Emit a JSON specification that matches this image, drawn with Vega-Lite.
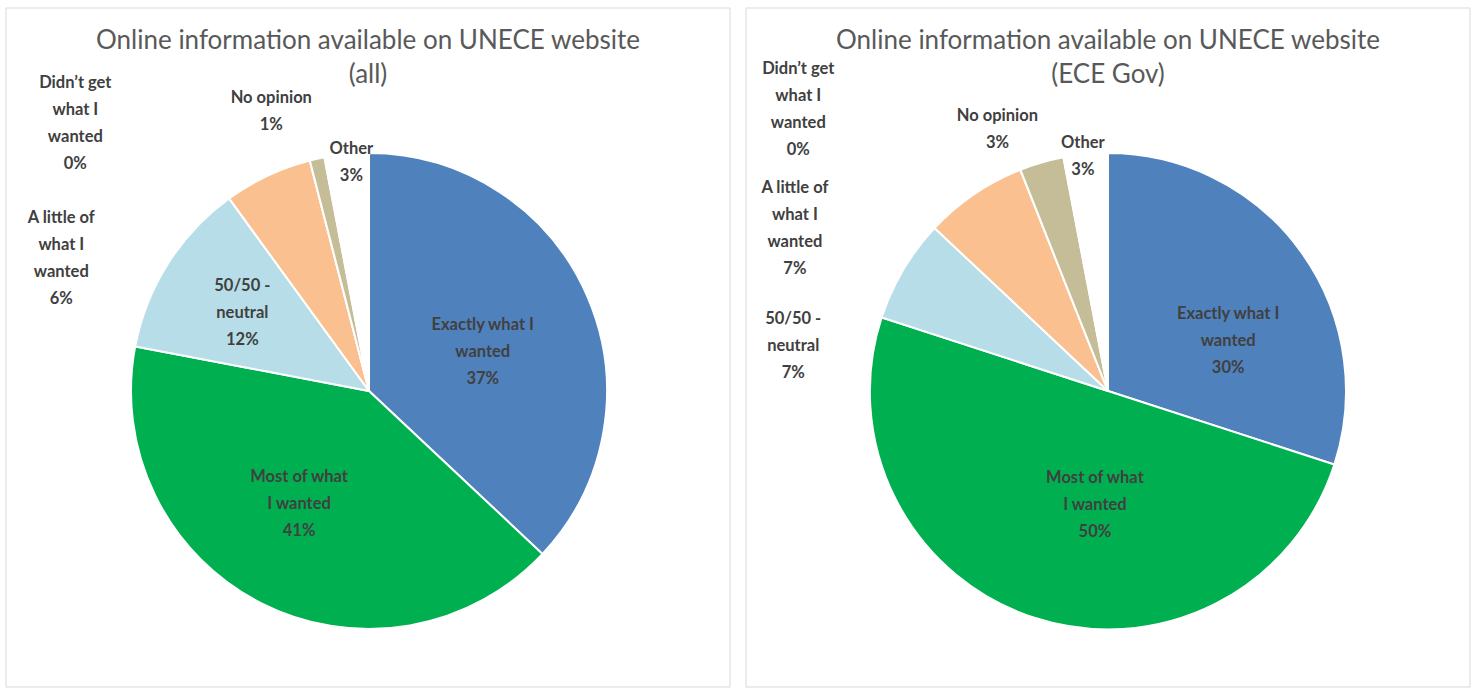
{
  "$schema": "https://vega.github.io/schema/vega-lite/v6.json",
  "padding": {"left": 5, "top": 7, "right": 6, "bottom": 2},
  "spacing": 14,
  "background": "#ffffff",
  "config": {
    "view": {"stroke": null},
    "title": {"anchor": "middle", "frame": "group", "baseline": "top", "offset": -80, "font": "Lato", "fontSize": 26, "fontWeight": "normal", "color": "#595959", "lineHeight": 34},
    "text": {"font": "Lato", "fontWeight": "bold", "fontSize": 16.5, "lineBreak": "\n", "lineHeight": 27, "align": "center", "baseline": "middle"}
  },
  "hconcat": [
    {
      "width": 724,
      "height": 679,
      "title": {"text": ["Online information available on UNECE website", "(all)"]},
      "layer": [
        {"data": {"values": [{}]}, "mark": {"type": "rect", "fill": "#ffffff", "fillOpacity": 0, "stroke": "#d9d9d9", "strokeWidth": 1}, "encoding": {}},
        {
          "data": {"values": [
            {"category": "Exactly what I wanted", "value": 37, "rank": 1, "label": "Exactly what I\nwanted\n37%"},
            {"category": "Most of what I wanted", "value": 41, "rank": 2, "label": "Most of what\nI wanted\n41%"},
            {"category": "50/50 - neutral", "value": 12, "rank": 3, "label": "50/50  -\nneutral\n12%"},
            {"category": "A little of what I wanted", "value": 6, "rank": 4, "label": "A little of\nwhat I\nwanted\n6%"},
            {"category": "Didn’t get what I wanted", "value": 0, "rank": 5, "label": "Didn’t get\nwhat I\nwanted\n0%"},
            {"category": "No opinion", "value": 1, "rank": 6, "label": "No opinion\n1%"},
            {"category": "Other", "value": 3, "rank": 7, "label": "Other\n3%"}
          ]},
          "encoding": {
            "theta": {"field": "value", "type": "quantitative", "stack": true},
            "order": {"field": "rank", "type": "quantitative"},
            "color": {"field": "category", "type": "nominal", "legend": null,
              "scale": {"domain": ["Exactly what I wanted", "Most of what I wanted", "50/50 - neutral", "A little of what I wanted", "Didn’t get what I wanted", "No opinion", "Other"],
                        "range": ["#4f81bd", "#00b050", "#b7dee8", "#fac090", "#8064a2", "#c4bd97", "#ffffff"]}}
          },
          "layer": [
            {"mark": {"type": "arc", "radius": 238, "stroke": "#ffffff", "strokeWidth": 2, "xOffset": 1, "yOffset": 43.5}},
            {"mark": {"type": "text", "clip": true, "radius": 125, "dx": -1, "dy": -16, "xOffset": 1, "yOffset": 43.5},
             "encoding": {"color": {"value": "#404040"}, "detail": {"field": "category"}, "text": {"condition": {"test": "datum.category === 'Exactly what I wanted'", "field": "label"}, "value": ""}}},
            {"mark": {"type": "text", "clip": true, "radius": 132, "dx": -10, "dy": -32, "xOffset": 1, "yOffset": 43.5},
             "encoding": {"color": {"value": "#404040"}, "detail": {"field": "category"}, "text": {"condition": {"test": "datum.category === 'Most of what I wanted'", "field": "label"}, "value": ""}}},
            {"mark": {"type": "text", "clip": true, "radius": 150, "dx": 0, "dy": -25, "xOffset": 1, "yOffset": 43.5},
             "encoding": {"color": {"value": "#404040"}, "detail": {"field": "category"}, "text": {"condition": {"test": "datum.category === '50/50 - neutral'", "field": "label"}, "value": ""}}},
            {"mark": {"type": "text", "clip": true, "radius": 260, "dx": -197, "dy": 62, "xOffset": 1, "yOffset": 43.5},
             "encoding": {"color": {"value": "#404040"}, "detail": {"field": "category"}, "text": {"condition": {"test": "datum.category === 'A little of what I wanted'", "field": "label"}, "value": ""}}},
            {"mark": {"type": "text", "clip": true, "radius": 260, "dx": -229, "dy": -56, "xOffset": 1, "yOffset": 43.5},
             "encoding": {"color": {"value": "#404040"}, "detail": {"field": "category"}, "text": {"condition": {"test": "datum.category === 'Didn’t get what I wanted'", "field": "label"}, "value": ""}}},
            {"mark": {"type": "text", "clip": true, "radius": 260, "dx": -41, "dy": -39, "xOffset": 1, "yOffset": 43.5},
             "encoding": {"color": {"value": "#404040"}, "detail": {"field": "category"}, "text": {"condition": {"test": "datum.category === 'No opinion'", "field": "label"}, "value": ""}}},
            {"mark": {"type": "text", "clip": true, "radius": 230, "dx": 4, "dy": -13, "xOffset": 1, "yOffset": 43.5},
             "encoding": {"color": {"value": "#404040"}, "detail": {"field": "category"}, "text": {"condition": {"test": "datum.category === 'Other'", "field": "label"}, "value": ""}}}
          ]
        }
      ]
    },
    {
      "width": 724,
      "height": 679,
      "title": {"text": ["Online information available on UNECE website", "(ECE Gov)"]},
      "layer": [
        {"data": {"values": [{}]}, "mark": {"type": "rect", "fill": "#ffffff", "fillOpacity": 0, "stroke": "#d9d9d9", "strokeWidth": 1}, "encoding": {}},
        {
          "data": {"values": [
            {"category": "Exactly what I wanted", "value": 30, "rank": 1, "label": "Exactly what I\nwanted\n30%"},
            {"category": "Most of what I wanted", "value": 50, "rank": 2, "label": "Most of what\nI wanted\n50%"},
            {"category": "50/50 - neutral", "value": 7, "rank": 3, "label": "50/50  -\nneutral\n7%"},
            {"category": "A little of what I wanted", "value": 7, "rank": 4, "label": "A little of\nwhat I\nwanted\n7%"},
            {"category": "Didn’t get what I wanted", "value": 0, "rank": 5, "label": "Didn’t get\nwhat I\nwanted\n0%"},
            {"category": "No opinion", "value": 3, "rank": 6, "label": "No opinion\n3%"},
            {"category": "Other", "value": 3, "rank": 7, "label": "Other\n3%"}
          ]},
          "encoding": {
            "theta": {"field": "value", "type": "quantitative", "stack": true},
            "order": {"field": "rank", "type": "quantitative"},
            "color": {"field": "category", "type": "nominal", "legend": null,
              "scale": {"domain": ["Exactly what I wanted", "Most of what I wanted", "50/50 - neutral", "A little of what I wanted", "Didn’t get what I wanted", "No opinion", "Other"],
                        "range": ["#4f81bd", "#00b050", "#b7dee8", "#fac090", "#8064a2", "#c4bd97", "#ffffff"]}}
          },
          "layer": [
            {"mark": {"type": "arc", "radius": 238, "stroke": "#ffffff", "strokeWidth": 2, "yOffset": 43.5}},
            {"mark": {"type": "text", "clip": true, "radius": 130, "dx": 15, "dy": -1, "yOffset": 43.5},
             "encoding": {"color": {"value": "#404040"}, "detail": {"field": "category"}, "text": {"condition": {"test": "datum.category === 'Exactly what I wanted'", "field": "label"}, "value": ""}}},
            {"mark": {"type": "text", "clip": true, "radius": 120, "dx": 24, "dy": -27, "yOffset": 43.5},
             "encoding": {"color": {"value": "#404040"}, "detail": {"field": "category"}, "text": {"condition": {"test": "datum.category === 'Most of what I wanted'", "field": "label"}, "value": ""}}},
            {"mark": {"type": "text", "clip": true, "radius": 260, "dx": -91, "dy": 60, "yOffset": 43.5},
             "encoding": {"color": {"value": "#404040"}, "detail": {"field": "category"}, "text": {"condition": {"test": "datum.category === '50/50 - neutral'", "field": "label"}, "value": ""}}},
            {"mark": {"type": "text", "clip": true, "radius": 260, "dx": -167, "dy": 12, "yOffset": 43.5},
             "encoding": {"color": {"value": "#404040"}, "detail": {"field": "category"}, "text": {"condition": {"test": "datum.category === 'A little of what I wanted'", "field": "label"}, "value": ""}}},
            {"mark": {"type": "text", "clip": true, "radius": 260, "dx": -214, "dy": -80, "yOffset": 43.5},
             "encoding": {"color": {"value": "#404040"}, "detail": {"field": "category"}, "text": {"condition": {"test": "datum.category === 'Didn’t get what I wanted'", "field": "label"}, "value": ""}}},
            {"mark": {"type": "text", "clip": true, "radius": 260, "dx": -38, "dy": -25, "yOffset": 43.5},
             "encoding": {"color": {"value": "#404040"}, "detail": {"field": "category"}, "text": {"condition": {"test": "datum.category === 'No opinion'", "field": "label"}, "value": ""}}},
            {"mark": {"type": "text", "clip": true, "radius": 235, "dx": -3, "dy": -14, "yOffset": 43.5},
             "encoding": {"color": {"value": "#404040"}, "detail": {"field": "category"}, "text": {"condition": {"test": "datum.category === 'Other'", "field": "label"}, "value": ""}}}
          ]
        }
      ]
    }
  ]
}
